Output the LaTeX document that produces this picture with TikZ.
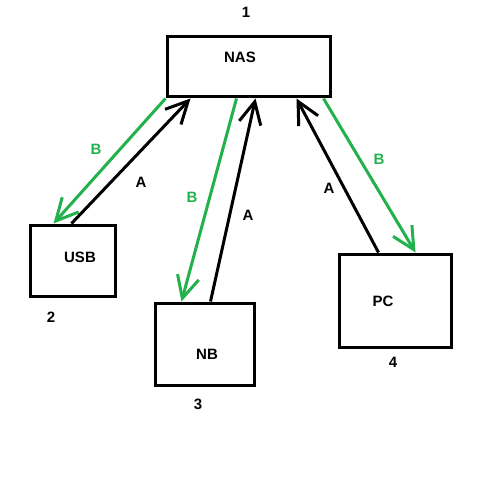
\documentclass[tikz,border=0pt]{standalone}
\usepackage{fontspec}
\setmainfont{Liberation Sans}
\usetikzlibrary{arrows.meta}
\definecolor{paintgreen}{RGB}{34,177,76}

\tikzset{
    box/.style={rectangle,draw,line width=3pt,inner sep=0},
    txt/.style={font=\fontsize{15}{18}\selectfont\bfseries},
    arr/.style={line width=3pt,-{Straight Barb[length=22pt,width=22pt]}},
    grn/.style={paintgreen,text=paintgreen}
    }

\begin{document}
\begin{tikzpicture}[x=1pt, y=-1pt]
    \useasboundingbox (0,0) rectangle (500,500);
                % The boxes
                \node(nas)[box, minimum width=163pt, minimum height=60pt] at (248.5,67) {};
                \node(usb)[box, minimum width=85pt, minimum height=71pt] at (72.5,260.5) {};
                \node(nb)[box, minimum width=99pt, minimum height=82pt] at (204.5,344) {};
                \node(pc)[box, minimum width=112pt, minimum height=93pt] at (395,300.5) {};
                % The texts
                \node(nastxt)[txt] at (240,57) {NAS};
                \node(usbtxt)[txt] at (80,257) {USB};
                \node(nbtxt)[txt] at (207,354) {NB};
                \node(pctxt)[txt] at (383,301) {PC};
                \node(n1)[txt] at (246,12) {1};
                \node(n2)[txt] at (51,317) {2};
                \node(n3)[txt] at (198,404) {3};
                \node(n4)[txt] at (393,362) {4};
                % The arrows
                \draw[arr, grn] (nas.south west) -- ([xshift=25pt]usb.north west);
                \draw[arr] ([xshift=43pt]usb.north west) -- ([xshift=25pt]nas.south west);
                \draw[arr, grn] ([xshift=71pt]nas.south west) -- ([xshift=28pt]nb.north west);
                \draw[arr] ([xshift=57pt]nb.north west) -- ([xshift=90pt]nas.south west);
                \draw[arr] ([xshift=41pt]pc.north west) -- ([xshift=131pt]nas.south west);
                \draw[arr, grn] ([xshift=158pt]nas.south west) -- ([xshift=78pt]pc.north west);
                % The arrow labels
                \node(b1)[txt, grn] at (96,149) {B};
                \node(a1)[txt] at (141,182) {A};
                \node(b2)[txt, grn] at (192,197) {B};
                \node(a2)[txt] at (248,215) {A};
                \node(a3)[txt] at (329,188) {A};
                \node(b3)[txt, grn] at (379,159) {B};
            \end{tikzpicture}
\end{document}
